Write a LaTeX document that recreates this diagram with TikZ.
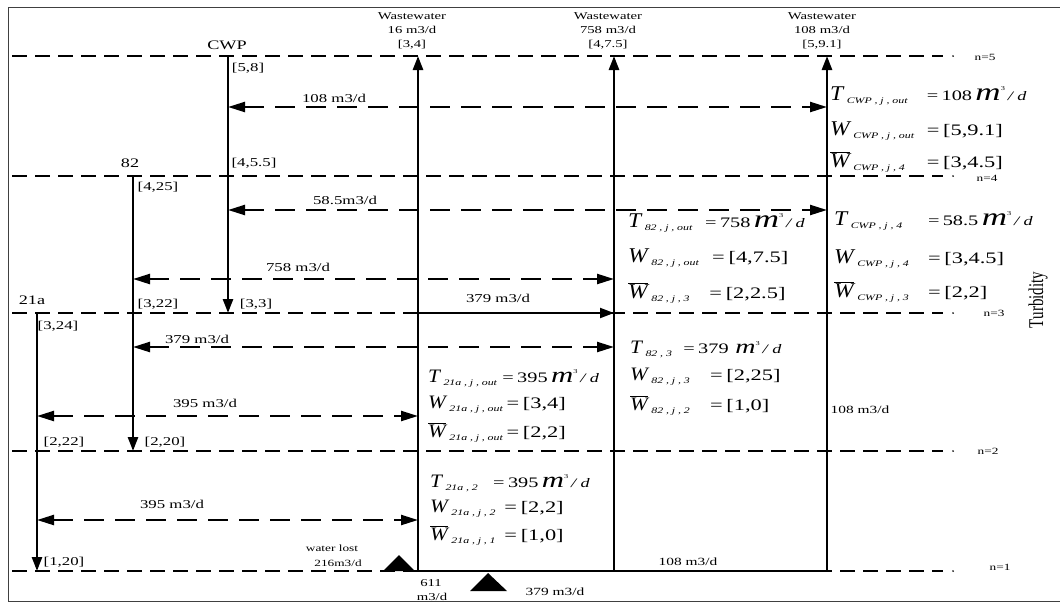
\documentclass[tikz,border=0pt]{standalone}
\usepackage{fontspec}
\setmainfont{Liberation Serif}
\usepackage{graphicx}
\usetikzlibrary{arrows.meta}
\newcommand\fsz[1]{\fontsize{#1}{#1}\selectfont}
\newcommand\hs[1]{\scalebox{1.4}[1]{#1}}
\def\symsz{21}
\def\subsz{8.5}
\newcommand\Tsym{\scalebox{0.8}[1]{\fsz{\symsz}\itshape T}}
\newcommand\Wsym{\scalebox{0.8}[1]{\fsz{\symsz}\itshape W}}
\newcommand\Wbar{$\overline{\hbox{\scalebox{0.8}[1]{\fsz{\symsz}\itshape W}}}$}
\newcommand\Sb[1]{\hspace{2.5pt}\raisebox{-3.5pt}{\fsz{\subsz}\itshape #1}}
\newcommand\csep{\hspace{2pt},\hspace{2pt}}
\newcommand\Frow[4]{\hs{\makebox[#1][l]{#2\Sb{#3}}#4}}
\newcommand\Trhs[3]{{\fsz{14.5}=\,#1\,}{\fsz{#2}\itshape m}\raisebox{#3}{\fsz{6}3}\hspace{2pt}{\fsz{13}\itshape / d}}
\newcommand\Wrhs[1]{{\fsz{16}=\,#1}}
\begin{document}
\begin{tikzpicture}[x=1pt,y=-1pt,
  lvl/.style={line width=1.1pt, dash pattern=on 15pt off 8pt},
  flow/.style={line width=2.3pt, dash pattern=on 20pt off 11pt,
    {Triangle[length=17pt,width=10pt]}-{Triangle[length=17pt,width=10pt]}},
  vline/.style={line width=2.6pt},
  tipd/.style={-{Triangle[length=14pt,width=10pt]}},
  lbl/.style={inner sep=0pt, anchor=center},
  frm/.style={inner sep=0pt, anchor=base west},
  ww/.style={inner sep=0pt, align=center, font=\fontsize{10.5}{14}\selectfont}]
\useasboundingbox (0,0) rectangle (1060,603);
% frame
\draw[line width=1pt, black!75] (1060,601) -- (8,601) -- (8,7) -- (1060,7);
% levels
\foreach \y/\n in {56/5,176/4,313/3,451/2,571/1} {
  \coordinate (L\n w) at (12,\y);
  \coordinate (L\n e) at (943,\y);
  \draw[lvl] (L\n w) -- (L\n e);
  \node[circle, fill, inner sep=0.7pt] (dot\n) at (953,\y) {};
}
\node[lbl] (n5) at (985,57) {\hs{\fsz{9.5}n=5}};
\node[lbl] (n4) at (987,178) {\hs{\fsz{9.5}n=4}};
\node[lbl] (n3) at (994,313) {\hs{\fsz{9.5}n=3}};
\node[lbl] (n2) at (988,451) {\hs{\fsz{9.5}n=2}};
\node[lbl] (n1) at (1000,567) {\hs{\fsz{9.5}n=1}};
\node[lbl, rotate=90] (turb) at (1038,300) {\scalebox{1}[1.4]{\fsz{15}Turbidity}};
% vertical coordinates
\coordinate (a21t) at (37,313);  \coordinate (a21b) at (37,571);
\coordinate (b82t) at (133,176); \coordinate (b82b) at (133,451);
\coordinate (cwpt) at (228,56);  \coordinate (cwpb) at (228,313);
\coordinate (w1t) at (418,56);   \coordinate (w1b) at (418,571);
\coordinate (w2t) at (614,56);   \coordinate (w2b) at (614,571);
\coordinate (w3t) at (827,56);   \coordinate (w3b) at (827,571);
\coordinate (w1m) at (418,313);  \coordinate (w2m) at (614,313);
% flow end points
\coordinate (f1l) at (228,107); \coordinate (f1r) at (827,107);
\coordinate (f2l) at (228,210); \coordinate (f2r) at (827,210);
\coordinate (f3l) at (133,279); \coordinate (f3r) at (614,279);
\coordinate (f4l) at (133,347); \coordinate (f4r) at (614,347);
\coordinate (f5l) at (37,416);  \coordinate (f5r) at (418,416);
\coordinate (f6l) at (37,520);  \coordinate (f6r) at (418,520);
% verticals
\draw[vline, tipd] (a21t) -- (a21b);
\draw[vline, tipd] (b82t) -- (b82b);
\draw[vline, tipd] (cwpt) -- (cwpb);
\draw[vline, tipd] (w1b) -- (w1t);
\draw[vline, tipd] (w2b) -- (w2t);
\draw[vline, tipd] (w3b) -- (w3t);
\draw[vline] (w1b) -- (w3b);
\draw[line width=2pt, tipd] (w1m) -- (w2m);
% dashed flows
\draw[flow] (f1l) -- (f1r);
\draw[flow] (f2l) -- (f2r);
\draw[flow] (f3l) -- (f3r);
\draw[flow] (f4l) -- (f4r);
\draw[flow] (f5l) -- (f5r);
\draw[flow] (f6l) -- (f6r);
% triangles
\fill (383,571) -- (399,555) -- (415,571) -- cycle;
\fill (470,591) -- (488,573) -- (507,591) -- cycle;
% source labels
\node[lbl] (cwpL) at (227,45) {\hs{\fsz{13}CWP}};
\node[lbl] (l82) at (130,163) {\hs{\fsz{13}82}};
\node[lbl] (l21a) at (32,300) {\hs{\fsz{13}21a}};
\node[lbl] (b1) at (248,68) {\hs{\fsz{12}[5,8]}};
\node[lbl] (b2) at (254,163) {\hs{\fsz{12}[4,5.5]}};
\node[lbl] (b3) at (256,304) {\hs{\fsz{12}[3,3]}};
\node[lbl] (b4) at (158,187) {\hs{\fsz{12}[4,25]}};
\node[lbl] (b5) at (158,304) {\hs{\fsz{12}[3,22]}};
\node[lbl] (b6) at (165,442) {\hs{\fsz{12}[2,20]}};
\node[lbl] (b7) at (58,326) {\hs{\fsz{12}[3,24]}};
\node[lbl] (b8) at (64,442) {\hs{\fsz{12}[2,22]}};
\node[lbl] (b9) at (64,562) {\hs{\fsz{12}[1,20]}};
% flow labels
\node[lbl] (q1) at (334,98) {\hs{\fsz{12}108 m3/d}};
\node[lbl] (q2) at (345,200) {\hs{\fsz{12}58.5m3/d}};
\node[lbl] (q3) at (298,267) {\hs{\fsz{12}758 m3/d}};
\node[lbl] (q4) at (197,339) {\hs{\fsz{12}379 m3/d}};
\node[lbl] (q5) at (498,298) {\hs{\fsz{12}379 m3/d}};
\node[lbl] (q6) at (205,403) {\hs{\fsz{12}395 m3/d}};
\node[lbl] (q7) at (172,504) {\hs{\fsz{12}395 m3/d}};
% wastewater labels
\node[ww] (ww1) at (412,31) {\hs{Wastewater}\\\hs{16 m3/d}\\\hs{[3,4]}};
\node[ww] (ww2) at (608,31) {\hs{Wastewater}\\\hs{758 m3/d}\\\hs{[4,7.5]}};
\node[ww] (ww3) at (822,31) {\hs{Wastewater}\\\hs{108 m3/d}\\\hs{[5,9.1]}};
% bottom labels
\node[lbl] (wl1) at (332,548) {\hs{\fsz{9.5}water lost}};
\node[lbl] (wl2) at (338,563) {\hs{\fsz{9.5}216m3/d}};
\node[lbl] (s1) at (431,583) {\hs{\fsz{10.5}611}};
\node[lbl] (s2) at (432,597) {\hs{\fsz{10.5}m3/d}};
\node[lbl] (s3) at (555,592) {\hs{\fsz{11}379 m3/d}};
\node[lbl] (s4) at (688,562) {\hs{\fsz{11}108 m3/d}};
\node[lbl] (s5) at (860,410) {\hs{\fsz{11}108 m3/d}};
% formula blocks
\node[frm] (c1) at (830,100) {\Frow{69pt}{\Tsym}{CWP\csep j\csep out}{\Trhs{108}{25}{10pt}}};
\node[frm] (c2) at (830,135) {\Frow{69pt}{\Wsym}{CWP\csep j\csep out}{\Wrhs{[5,9.1]}}};
\node[frm] (c3) at (830,167) {\Frow{69pt}{\Wbar}{CWP\csep j\csep 4}{\Wrhs{[3,4.5]}}};
\node[frm] (d1) at (834,225) {\Frow{67pt}{\Tsym}{CWP\csep j\csep 4}{\Trhs{58.5}{25}{10pt}}};
\node[frm] (d2) at (834,263) {\Frow{67pt}{\Wsym}{CWP\csep j\csep 4}{\Wrhs{[3,4.5]}}};
\node[frm] (d3) at (834,297) {\Frow{67pt}{\Wbar}{CWP\csep j\csep 3}{\Wrhs{[2,2]}}};
\node[frm] (e1) at (628,227) {\Frow{55pt}{\Tsym}{82\csep j\csep out}{\Trhs{758}{25}{10pt}}};
\node[frm] (e2) at (628,262) {\Frow{60pt}{\Wsym}{82\csep j\csep out}{\Wrhs{[4,7.5]}}};
\node[frm] (e3) at (628,298) {\Frow{58pt}{\Wbar}{82\csep j\csep 3}{\Wrhs{[2,2.5]}}};
\node[frm] (g1) at (630,353) {\def\symsz{19}\Frow{38pt}{\Tsym}{82\csep 3}{\Trhs{379\,}{20}{8pt}}};
\node[frm] (g2) at (630,380) {\def\symsz{19}\Frow{57pt}{\Wsym}{82\csep j\csep 3}{\Wrhs{[2,25]}}};
\node[frm] (g3) at (630,410) {\def\symsz{19}\Frow{57pt}{\Wbar}{82\csep j\csep 2}{\Wrhs{[1,0]}}};
\node[frm] (h1) at (428,382) {\def\symsz{19}\Frow{53pt}{\Tsym}{21a\csep j\csep out}{\Trhs{395}{22}{9pt}}};
\node[frm] (h2) at (428,408) {\def\symsz{19}\Frow{56pt}{\Wsym}{21a\csep j\csep out}{\Wrhs{[3,4]}}};
\node[frm] (h3) at (428,437) {\def\symsz{19}\Frow{56pt}{\Wbar}{21a\csep j\csep out}{\Wrhs{[2,2]}}};
\node[frm] (k1) at (430,487) {\def\symsz{19}\Frow{45pt}{\Tsym}{21a\csep 2}{\Trhs{395}{22}{9pt}}};
\node[frm] (k2) at (430,512) {\def\symsz{19}\Frow{53pt}{\Wsym}{21a\csep j\csep 2}{\Wrhs{[2,2]}}};
\node[frm] (k3) at (430,540) {\def\symsz{19}\Frow{53pt}{\Wbar}{21a\csep j\csep 1}{\Wrhs{[1,0]}}};
\end{tikzpicture}
\end{document}
